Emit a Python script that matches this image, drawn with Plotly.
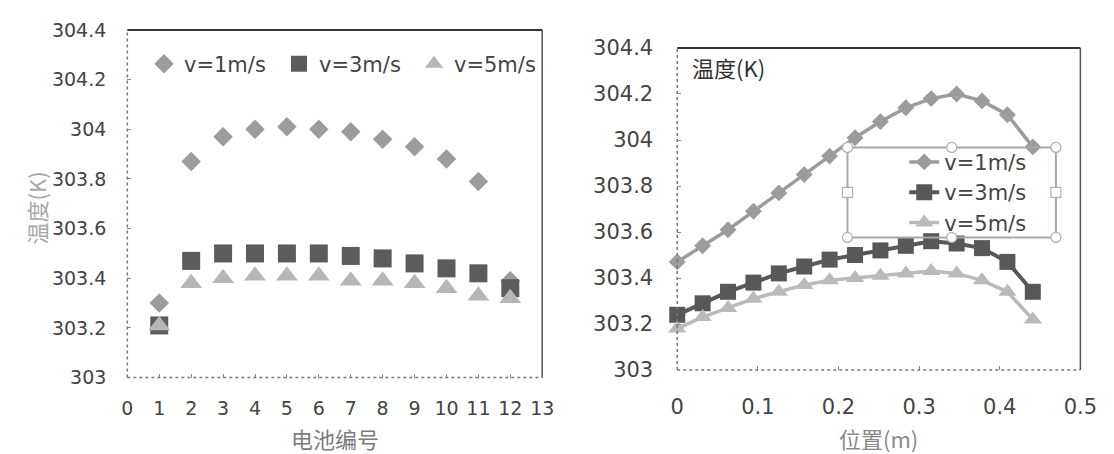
import plotly.graph_objects as go

# ---- data: cell temperatures by cell number (left) ----
cell_no = [1, 2, 3, 4, 5, 6, 7, 8, 9, 10, 11, 12]
cell_v1 = [303.30, 303.87, 303.97, 304.00, 304.01, 304.00, 303.99, 303.96, 303.93, 303.88, 303.79, 303.39]
cell_v3 = [303.21, 303.47, 303.50, 303.50, 303.50, 303.50, 303.49, 303.48, 303.46, 303.44, 303.42, 303.36]
cell_v5 = [303.21, 303.38, 303.40, 303.41, 303.41, 303.41, 303.39, 303.39, 303.38, 303.36, 303.33, 303.32]

# ---- data: temperature along the flow direction (right) ----
pos_m = [0, 0.0315, 0.063, 0.0945, 0.126, 0.1575, 0.189, 0.2205, 0.252, 0.2835,
         0.315, 0.3465, 0.378, 0.4095, 0.441]
pos_v1 = [303.47, 303.54, 303.61, 303.69, 303.77, 303.85, 303.93, 304.01, 304.08, 304.14,
          304.18, 304.20, 304.17, 304.11, 303.97]
pos_v3 = [303.24, 303.29, 303.34, 303.38, 303.42, 303.45, 303.48, 303.50, 303.52, 303.54,
          303.56, 303.55, 303.53, 303.47, 303.34]
pos_v5 = [303.18, 303.23, 303.27, 303.31, 303.34, 303.37, 303.39, 303.40, 303.41, 303.42,
          303.43, 303.42, 303.39, 303.34, 303.22]

series_names = ["v=1m/s", "v=3m/s", "v=5m/s"]

y_ticks = [303, 303.2, 303.4, 303.6, 303.8, 304, 304.2, 304.4]
y_ticktext = ["303", "303.2", "303.4", "303.6", "303.8", "304", "304.2", "304.4"]
x1_ticks = list(range(0, 14))
x2_ticks = [0, 0.1, 0.2, 0.3, 0.4, 0.5]
x2_ticktext = ["0", "0.1", "0.2", "0.3", "0.4", "0.5"]

W, H = 1114, 454
C1, C3, C5 = "#9c9c9c", "#5c5c5c", "#b6b6b6"
CJK = "Noto Sans CJK SC"
LAT = "DejaVu Sans"

fig = go.Figure()

# left panel: markers only
for name, vals, sym, size, col in [
    (series_names[0], cell_v1, "diamond", 15, C1),
    (series_names[1], cell_v3, "square", 18, C3),
    (series_names[2], cell_v5, "triangle-up", 19, C5),
]:
    fig.add_trace(go.Scatter(
        x=cell_no, y=vals, mode="markers", name=name,
        marker=dict(symbol=sym, size=size, color=col, line=dict(width=0)),
        xaxis="x", yaxis="y", legend="legend", cliponaxis=False,
    ))

# right panel: lines with markers
for name, vals, sym, size, col, lw in [
    (series_names[0], pos_v1, "diamond", 13, C1, 3.5),
    (series_names[1], pos_v3, "square", 16, "#585858", 4),
    (series_names[2], pos_v5, "triangle-up", 16, "#bababa", 3.5),
]:
    fig.add_trace(go.Scatter(
        x=pos_m, y=vals, mode="lines+markers", name=name,
        line=dict(color=col, width=lw),
        marker=dict(symbol=sym, size=size, color=col, line=dict(width=0)),
        xaxis="x2", yaxis="y2", legend="legend2", cliponaxis=False,
    ))

common_axis = dict(showgrid=False, zeroline=False, showline=False, ticks="inside",
                   ticklen=4, tickwidth=1, tickcolor="#888")

shapes = []
for xr, yr in [("x domain", "y domain"), ("x2 domain", "y2 domain")]:
    shapes += [
        dict(type="line", xref=xr, yref=yr, x0=0, x1=1, y0=1, y1=1,
             line=dict(color="#333", width=2)),
        dict(type="line", xref=xr, yref=yr, x0=1, x1=1, y0=0, y1=1,
             line=dict(color="#555", width=1.5)),
        dict(type="line", xref=xr, yref=yr, x0=0, x1=0, y0=0, y1=1,
             line=dict(color="#777", width=1.5, dash="dot")),
        dict(type="line", xref=xr, yref=yr, x0=0, x1=1, y0=0, y1=0,
             line=dict(color="#777", width=1.5, dash="dot")),
    ]

# selection frame around the right legend
bx0, bx1, by0, by1 = 859, 1072, 143, 238
shapes.append(dict(type="rect", xref="paper", yref="paper",
                   x0=bx0 / W, x1=bx1 / W, y0=1 - by1 / H, y1=1 - by0 / H,
                   line=dict(color="#a8a8a8", width=2), layer="above"))
bmx, bmy = (bx0 + bx1) / 2, (by0 + by1) / 2
for hx, hy, kind in [(bx0, by0, "circle"), (bmx, by0, "circle"), (bx1, by0, "circle"),
                     (bx0, by1, "circle"), (bmx, by1, "circle"), (bx1, by1, "circle"),
                     (bx0, bmy, "rect"), (bx1, bmy, "rect")]:
    shapes.append(dict(type=kind, xref="paper", yref="paper",
                       xsizemode="pixel", ysizemode="pixel",
                       xanchor=hx / W, yanchor=1 - hy / H,
                       x0=-5, x1=5, y0=-5, y1=5,
                       fillcolor="white", line=dict(color="#b0b0b0", width=1.2),
                       layer="above"))

annotations = [
    dict(text="温度(K)", x=30 / W, y=1 - 207 / H, xref="paper", yref="paper",
         textangle=-90, showarrow=False, xanchor="center", yanchor="middle",
         font=dict(family=CJK, size=22, color="#a8a8a8")),
    dict(text="电池编号", x=335 / W, y=1 - 450 / H, xref="paper", yref="paper",
         showarrow=False, xanchor="center", yanchor="middle", borderpad=0,
         font=dict(family=CJK, size=22, color="#7c7c7c")),
    dict(text="位置(m)", x=891 / W, y=1 - 450 / H, xref="paper", yref="paper",
         showarrow=False, xanchor="center", yanchor="middle", borderpad=0,
         font=dict(family=CJK, size=22, color="#8a8a8a")),
    dict(text="温度(K)", x=698 / W, y=1 - 58 / H, xref="paper", yref="paper",
         showarrow=False, xanchor="left", yanchor="middle",
         font=dict(family=CJK, size=22, color="#333")),
]

fig.update_layout(
    width=W, height=H, margin=dict(l=0, r=0, t=0, b=0),
    paper_bgcolor="white", plot_bgcolor="white",
    xaxis=dict(domain=[123 / W, 547 / W], range=[0, 13], tickvals=x1_ticks,
               tickfont=dict(family=LAT, size=19, color="#444"),
               ticklabelstandoff=17, anchor="y", **common_axis),
    yaxis=dict(domain=[1 - 386 / H, 1 - 19 / H], range=[303, 304.4],
               tickvals=y_ticks, ticktext=y_ticktext,
               tickfont=dict(family=LAT, size=19, color="#444"),
               ticklabelstandoff=20, anchor="x", **common_axis),
    xaxis2=dict(domain=[685 / W, 1097 / W], range=[0, 0.5], tickvals=x2_ticks,
                ticktext=x2_ticktext,
                tickfont=dict(family=LAT, size=21, color="#444"),
                ticklabelstandoff=22, anchor="y2", **common_axis),
    yaxis2=dict(domain=[1 - 378 / H, 1 - 38 / H], range=[303, 304.4],
                tickvals=y_ticks, ticktext=y_ticktext,
                tickfont=dict(family=LAT, size=21, color="#444"),
                ticklabelstandoff=23, anchor="x2", **common_axis),
    legend=dict(orientation="h", x=140 / W, xanchor="left", y=1 - 55 / H, yanchor="middle",
                font=dict(family=LAT, size=21, color="#444"), bgcolor="rgba(0,0,0,0)",
                entrywidth=90, entrywidthmode="pixels", itemwidth=30),
    legend2=dict(orientation="v", x=917 / W, xanchor="left", y=1 - 137 / H, yanchor="top",
                 font=dict(family=LAT, size=21, color="#444"), bgcolor="rgba(0,0,0,0)",
                 itemwidth=30),
    shapes=shapes,
    annotations=annotations,
)

fig.write_html("out.html")
